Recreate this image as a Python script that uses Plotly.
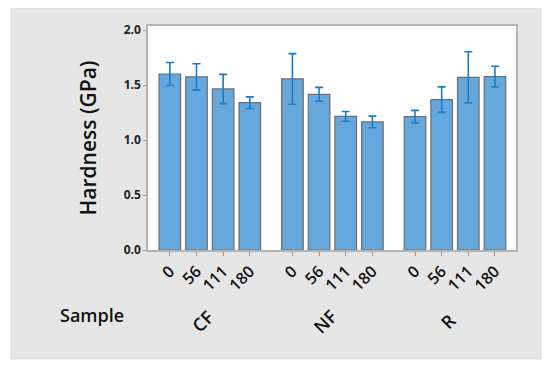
import plotly.graph_objects as go

groups = ["CF", "NF", "R"]
doses = ["0", "56", "111", "180"]
hardness = {
    "CF": [1.60, 1.573, 1.464, 1.339],
    "NF": [1.555, 1.415, 1.215, 1.164],
    "R":  [1.212, 1.367, 1.570, 1.576],
}
errors = {
    "CF": [0.105, 0.12, 0.133, 0.053],
    "NF": [0.23, 0.063, 0.044, 0.053],
    "R":  [0.057, 0.116, 0.232, 0.094],
}
y_ticks = [0.0, 0.5, 1.0, 1.5, 2.0]

GROUP_STEP = 4.6
FONT = "Open Sans"

xs, ys, es, tt = [], [], [], []
for gi, g in enumerate(groups):
    for di, d in enumerate(doses):
        xs.append(gi * GROUP_STEP + di)
        ys.append(hardness[g][di])
        es.append(errors[g][di])
        tt.append(d)

fig = go.Figure()
fig.add_trace(go.Bar(
    x=xs, y=ys, width=0.81,
    marker=dict(color="#67a8dc", line=dict(color="#6e6e6e", width=1.2)),
    error_y=dict(type="data", array=es, visible=True, color="#1a7bc6",
                 thickness=1.6, width=4),
))

OFF = 8  # page body margin
W, H = 550 - OFF, 371 - OFF
L, R, T, B = 148 - OFF, 550 - 516, 26 - OFF, 371 - 250
pw, ph = W - L - R, H - T - B

def px_x(p):
    return (p - OFF - L) / pw

def px_y(p):
    return (H - B - (p - OFF)) / ph

shapes = [
    dict(type="rect", xref="paper", yref="paper", layer="below",
         x0=px_x(11), x1=px_x(541), y0=px_y(359), y1=px_y(8),
         fillcolor="#e6e6e6", line=dict(color="#dcdcdc", width=1)),
    dict(type="rect", xref="paper", yref="paper", layer="below",
         x0=0, x1=1, y0=0, y1=1, fillcolor="white", line=dict(width=0)),
]

annotations = [
    dict(text="Sample", xref="paper", yref="paper", x=px_x(92), y=px_y(315),
         xanchor="center", yanchor="middle",
         showarrow=False, font=dict(family=FONT, size=18, color="#111", weight=600)),
]
for gi, g in enumerate(groups):
    annotations.append(dict(
        text=g, xref="x", yref="paper", x=gi * GROUP_STEP + 1.5, y=px_y(321),
        xanchor="center", yanchor="middle",
        xshift=-7, showarrow=False, textangle=-45,
        font=dict(family=FONT, size=18, color="#111", weight=600)))

fig.update_layout(
    width=W, height=H, margin=dict(l=L, r=R, t=T, b=B),
    paper_bgcolor="white", plot_bgcolor="white",
    showlegend=False, shapes=shapes, annotations=annotations,
    xaxis=dict(range=[-0.82, 2 * GROUP_STEP + 3 + 0.79], tickvals=xs, ticktext=tt,
               tickangle=-45, ticks="outside", ticklen=4, tickcolor="#9a9a9a",
               showline=True, linecolor="#b4b4b4", linewidth=1.5, mirror=True,
               showgrid=False, zeroline=False,
               tickfont=dict(family=FONT, size=16, color="#111", weight=600)),
    yaxis=dict(range=[0, 2.0 * ph / 220], tickvals=y_ticks,
               ticktext=[f"{v:.1f}" for v in y_ticks],
               ticks="outside", ticklen=3, tickcolor="#9a9a9a",
               showline=True, linecolor="#b4b4b4", linewidth=1.5, mirror=True,
               showgrid=False, zeroline=False,
               tickfont=dict(family=FONT, size=12, color="#222", weight=700),
               title=dict(text="Hardness (GPa)", standoff=21,
                          font=dict(family=FONT, size=21, color="#111", weight=600))),
)

fig.write_html("out.html")
